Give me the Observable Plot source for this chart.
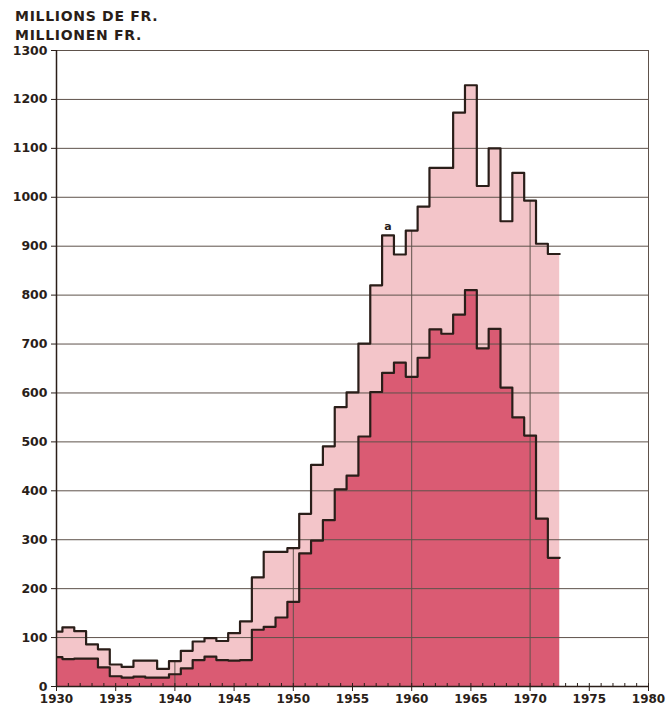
<!DOCTYPE html>
<html><head><meta charset="utf-8">
<script src="https://cdn.jsdelivr.net/npm/d3@7"></script>
<script src="https://cdn.jsdelivr.net/npm/@observablehq/plot@0.6"></script>
<style>
body{margin:0;background:#fff;}
#wrap{position:relative;width:669px;height:706px;overflow:hidden;}
#title{position:absolute;left:15px;top:7px;font-family:"DejaVu Sans",sans-serif;font-weight:bold;font-size:14px;line-height:19px;color:#2a1e19;letter-spacing:0.7px;z-index:2;}
</style></head><body>
<div id="wrap"><div id="title"><div>MILLIONS DE FR.</div><div>MILLIONEN FR.</div></div></div>
<script>
const years = [1930,1931,1932,1933,1934,1935,1936,1937,1938,1939,1940,1941,1942,1943,1944,1945,1946,1947,1948,1949,1950,1951,1952,1953,1954,1955,1956,1957,1958,1959,1960,1961,1962,1963,1964,1965,1966,1967,1968,1969,1970,1971,1972];
const upperValues = [112,121,113,86,76,45,40,53,53,36,52,73,92,99,93,109,133,223,275,275,283,353,453,491,571,601,701,820,922,883,932,981,1060,1060,1173,1229,1023,1100,951,1050,993,905,884];
const lowerValues = [60,56,57,57,39,21,18,20,18,18,25,37,54,61,54,53,54,116,122,141,173,272,298,340,403,431,511,602,641,662,633,672,730,721,760,810,691,731,611,550,513,343,263];
const yTicks = [0,100,200,300,400,500,600,700,800,900,1000,1100,1200,1300];
const xLabelTicks = [1930,1935,1940,1945,1950,1955,1960,1965,1970,1975,1980];
const yearTicks = d3.range(1930, 1981);
const gridYears = [1940,1950,1960,1970];
const noteYear = 1958;
const noteText = "a";

const lightFill = "#f3c5c9";
const darkFill = "#da5b73";
const ink = "#2a1e19";
const gridColor = "#5e524b";

function steps(vals) {
  const pts = years.map((yr, i) => ({x: yr - 0.5, v: vals[i]}));
  pts.push({x: years[years.length - 1] + 0.5, v: vals[vals.length - 1]});
  return pts;
}
const upperPts = steps(upperValues);
const lowerPts = steps(lowerValues);
const valueAt = (yr) => upperValues[years.indexOf(yr)];

const chart = Plot.plot({
  width: 669,
  height: 706,
  marginTop: 50,
  marginBottom: 20,
  marginLeft: 56,
  marginRight: 21,
  style: {fontFamily: "DejaVu Sans, sans-serif", fontWeight: "bold", fontSize: "12.5px", color: ink, background: "transparent", overflow: "visible"},
  x: {domain: [1930, 1980], axis: null, label: null},
  y: {domain: [0, 1300], axis: null, label: null},
  marks: [
    Plot.areaY(upperPts, {x: "x", y: "v", curve: "step-after", fill: lightFill, clip: true}),
    Plot.areaY(lowerPts, {x: "x", y: "v", curve: "step-after", fill: darkFill, clip: true}),
    Plot.ruleY(yTicks, {stroke: gridColor, strokeWidth: 1}),
    Plot.ruleX(gridYears, {x: d => d, y1: 0, y2: d => valueAt(d), stroke: gridColor, strokeWidth: 1}),
    Plot.ruleX([1980], {stroke: gridColor, strokeWidth: 1}),
    Plot.lineY(upperPts, {x: "x", y: "v", curve: "step-after", stroke: ink, strokeWidth: 2.2, clip: true}),
    Plot.lineY(lowerPts, {x: "x", y: "v", curve: "step-after", stroke: ink, strokeWidth: 2.2, clip: true}),
    Plot.ruleX([1930], {stroke: ink, strokeWidth: 1.5}),
    Plot.ruleY([0], {stroke: ink, strokeWidth: 1.5}),
    Plot.axisY({ticks: yTicks, tickSize: 5, tickPadding: 4, fontSize: 12.5, tickFormat: d => `${d}`, stroke: ink, fill: ink, label: null}),
    Plot.axisX({ticks: yearTicks, tickSize: -3, tickFormat: () => "", stroke: ink, label: null}),
    Plot.axisX({ticks: xLabelTicks, tickSize: 5, tickPadding: 3, fontSize: 12, tickFormat: d => `${d}`, stroke: ink, fill: ink, label: null}),
    Plot.text([noteYear], {x: d => d, y: d => valueAt(d), text: () => noteText, dy: -9, fontSize: 11, fontWeight: "bold", fill: ink})
  ]
});
document.getElementById("wrap").appendChild(chart);
</script>
</body></html>
